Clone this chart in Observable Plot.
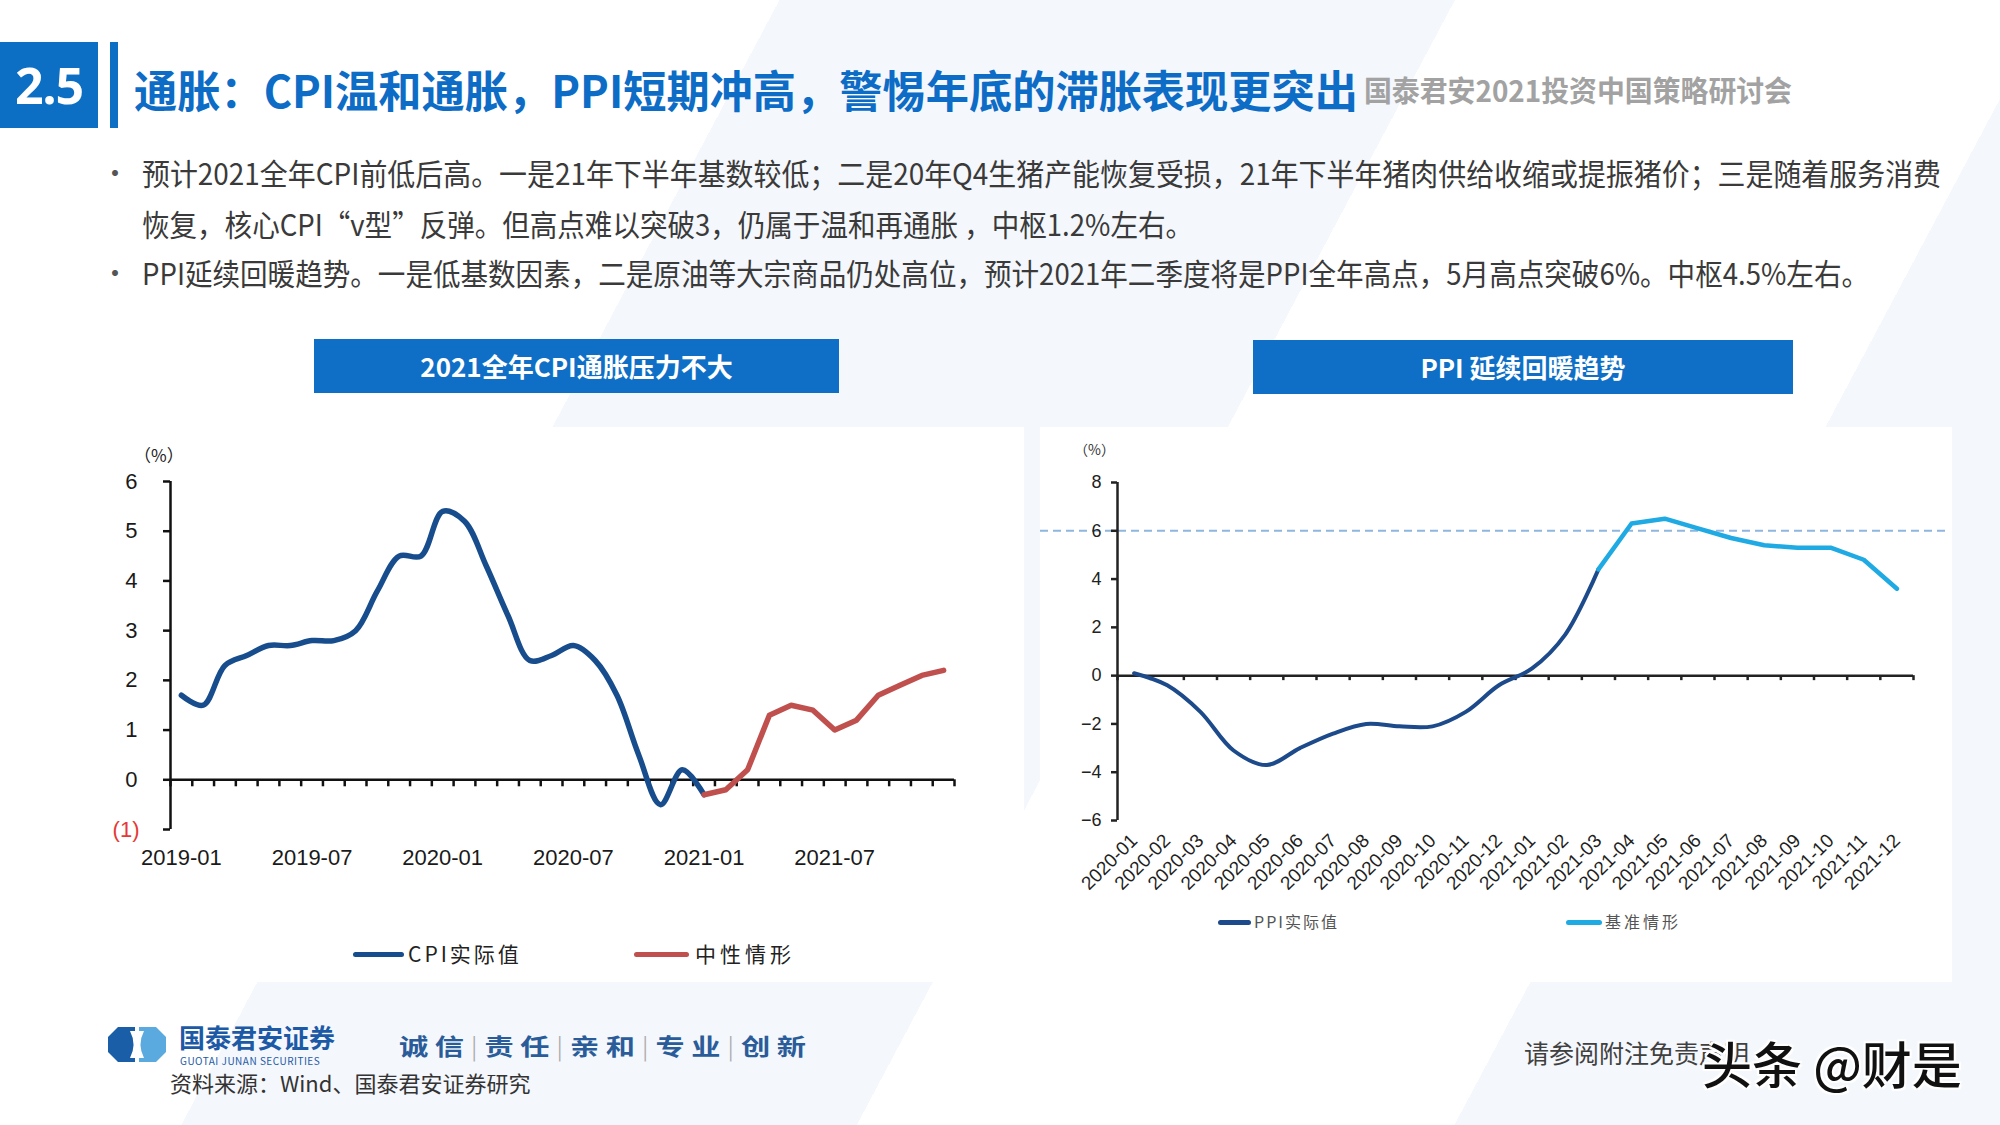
<!DOCTYPE html>
<html><head><meta charset="utf-8">
<script src="https://cdn.jsdelivr.net/npm/d3@7"></script>
<script src="https://cdn.jsdelivr.net/npm/@observablehq/plot@0.6"></script>
<style>
html,body{margin:0;padding:0;}
body{width:2000px;height:1125px;position:relative;overflow:hidden;font-family:"Noto Sans CJK SC","Noto Sans",sans-serif;
background:linear-gradient(118deg,#ffffff 0%,#ffffff 30%,#f4f7fc 30%,#f4f7fc 56%,#ffffff 56%,#ffffff 79%,#f4f7fc 79%);}
.abs{position:absolute;white-space:nowrap;}
.fit{transform-origin:0 50%;}
.panel{position:absolute;background:#fff;}
.panel svg{position:absolute;left:0;top:0;overflow:visible;}
.hdr{position:absolute;background:#0f6fc6;color:#fff;font-weight:700;font-size:26px;text-align:center;line-height:54px;height:54px;}
.bul{font-size:30px;line-height:30px;color:#3a3a3a;}
.dot{font-size:28px;color:#555;line-height:30px;}
.sw{position:absolute;height:5px;border-radius:3px;}
.lg{position:absolute;white-space:nowrap;color:#333;}
</style></head><body>

<div class="abs" style="left:0;top:42px;width:98px;height:86px;background:#0c6fc4;color:#fff;font:700 50px/86px 'Noto Sans','Liberation Sans',sans-serif;text-align:center;letter-spacing:-1px;">2.5</div>
<div class="abs" style="left:110px;top:42px;width:8px;height:86px;background:#0c6fc4;"></div>
<div class="abs fit" data-w="428" style="left:1364px;top:72px;font-size:29px;line-height:34px;font-weight:700;color:#a2a2a2;">国泰君安2021投资中国策略研讨会</div>
<div class="abs fit" data-w="1224" style="left:134px;top:67px;font-size:44px;line-height:44px;font-weight:700;color:#0c6cc6;">通胀：CPI温和通胀，PPI短期冲高，警惕年底的滞胀表现更突出</div>

<div class="abs dot" style="left:101px;top:157px;">•</div>
<div class="abs bul fit" data-w="1799" style="left:142px;top:157px;">预计2021全年CPI前低后高。一是21年下半年基数较低；二是20年Q4生猪产能恢复受损，21年下半年猪肉供给收缩或提振猪价；三是随着服务消费</div>
<div class="abs bul fit" data-w="1051" style="left:142px;top:208px;">恢复，核心CPI“v型”反弹。但高点难以突破3，仍属于温和再通胀 ，中枢1.2%左右。</div>
<div class="abs dot" style="left:101px;top:257px;">•</div>
<div class="abs bul fit" data-w="1727" style="left:142px;top:257px;">PPI延续回暖趋势。一是低基数因素，二是原油等大宗商品仍处高位，预计2021年二季度将是PPI全年高点，5月高点突破6%。中枢4.5%左右。</div>

<div class="hdr" style="left:314px;top:339px;width:525px;">2021全年CPI通胀压力不大</div>
<div class="hdr" style="left:1253px;top:340px;width:540px;">PPI 延续回暖趋势</div>

<div class="panel" id="pL" style="left:89px;top:427px;width:935px;height:555px;"></div>
<div class="panel" id="pR" style="left:1040px;top:427px;width:912px;height:555px;"></div>

<div class="abs" style="left:134px;top:444px;font-size:17px;line-height:22px;color:#222;">（%）</div>
<div class="abs" style="left:1074px;top:440px;font-size:14px;line-height:18px;color:#333;">（%）</div>

<div id="legL"></div>
<div id="legR"></div>

<!-- footer -->
<svg class="abs" style="left:108px;top:1027px;" width="58" height="35" viewBox="0 0 58 35">
  <path d="M10 0 H27 V35 H10 L0 25 V10 Z" fill="#1b5ea8"/>
  <path d="M31 0 H48 L58 10 V25 L48 35 H31 Z" fill="#5aaae0"/>
  <path d="M22 4 Q29 17.5 22 31 H27 V4 Z" fill="#fff"/>
  <path d="M36 4 Q29 17.5 36 31 H31 V4 Z" fill="#fff"/>
</svg>
<div class="abs" style="left:179px;top:1024px;font-size:26px;line-height:26px;font-weight:700;color:#1d5aa6;">国泰君安证券</div>
<div class="abs" style="left:180px;top:1055px;font-size:10px;line-height:11px;color:#1d5aa6;letter-spacing:0.5px;">GUOTAI JUNAN SECURITIES</div>
<div class="abs fit" data-w="407" style="left:399px;top:1032px;font-size:23px;line-height:26px;font-weight:700;color:#2a5c9a;">诚&nbsp;信<span style="color:#aaa;font-weight:300;">&nbsp;|&nbsp;</span>责&nbsp;任<span style="color:#aaa;font-weight:300;">&nbsp;|&nbsp;</span>亲&nbsp;和<span style="color:#aaa;font-weight:300;">&nbsp;|&nbsp;</span>专&nbsp;业<span style="color:#aaa;font-weight:300;">&nbsp;|&nbsp;</span>创&nbsp;新</div>
<div class="abs" style="left:170px;top:1070px;font-size:22px;line-height:24px;color:#333;">资料来源：Wind、国泰君安证券研究</div>
<div class="abs" style="left:1524px;top:1039px;font-size:25px;line-height:27px;color:#404040;">请参阅附注免责声明</div>
<div class="abs" style="left:1702px;top:1035px;font-size:50px;line-height:54px;font-weight:500;color:#111;text-shadow:0 0 3px #fff,2px 2px 0 #fff,-2px -2px 0 #fff,2px -2px 0 #fff,-2px 2px 0 #fff;">头条 @财是</div>

<script>
// ---------------- data ----------------
const cpiMonths = ["2019-01","2019-02","2019-03","2019-04","2019-05","2019-06","2019-07","2019-08","2019-09","2019-10","2019-11","2019-12",
  "2020-01","2020-02","2020-03","2020-04","2020-05","2020-06","2020-07","2020-08","2020-09","2020-10","2020-11","2020-12",
  "2021-01","2021-02","2021-03","2021-04","2021-05","2021-06","2021-07","2021-08","2021-09","2021-10","2021-11","2021-12"];
const cpiTickLabels = ["2019-01","2019-07","2020-01","2020-07","2021-01","2021-07"];
const cpiYTicks = [0,1,2,3,4,5,6];
const cpiNegTick = [-1];
// CPI实际值 2019-01 .. 2021-01
const cpiActual = [1.7,1.5,2.3,2.5,2.7,2.7,2.8,2.8,3.0,3.8,4.5,4.5,5.4,5.2,4.3,3.3,2.4,2.5,2.7,2.4,1.7,0.5,-0.5,0.2,-0.3];
// 中性情形 2021-01 .. 2021-12
const cpiNeutralStart = "2021-01";
const cpiNeutral = [-0.3,-0.2,0.2,1.3,1.5,1.4,1.0,1.2,1.7,1.9,2.1,2.2];
const cpiLegend = ["CPI实际值","中性情形"];

const ppiMonths = ["2020-01","2020-02","2020-03","2020-04","2020-05","2020-06","2020-07","2020-08","2020-09","2020-10","2020-11","2020-12",
  "2021-01","2021-02","2021-03","2021-04","2021-05","2021-06","2021-07","2021-08","2021-09","2021-10","2021-11","2021-12"];
const ppiYTicks = [-6,-4,-2,0,2,4,6,8];
// PPI实际值 2020-01 .. 2021-03
const ppiActual = [0.1,-0.4,-1.5,-3.1,-3.7,-3.0,-2.4,-2.0,-2.1,-2.1,-1.5,-0.4,0.3,1.7,4.4];
// 基准情形 2021-03 .. 2021-12
const ppiBaseStart = "2021-03";
const ppiBase = [4.4,6.3,6.5,6.1,5.7,5.4,5.3,5.3,4.8,3.6];
const ppiRefLine = [6];
const ppiLegend = ["PPI实际值","基准情形"];

// colours
const C = {cpi:"#174d8c", neutral:"#c0504d", ppi:"#1d4a8a", base:"#1faae3", dash:"#8fb6de", axis:"#111", neg:"#e53935"};

// ---------------- left chart ----------------
const cpiActualRows = cpiActual.map((v,k)=>({i:k, v}));
const nStart = cpiMonths.indexOf(cpiNeutralStart);
const cpiNeutralRows = cpiNeutral.map((v,k)=>({i:nStart+k, v}));
const L = {w:935,h:555,mt:54,mb:153,ml:81,mr:70};
const cpiBounds = d3.range(cpiMonths.length+1).map(k=>k-0.5);
const cpiPlot = Plot.plot({
  width:L.w,height:L.h,marginTop:L.mt,marginBottom:L.mb,marginLeft:L.ml,marginRight:L.mr,
  x:{type:"linear",domain:[-0.5,cpiMonths.length-0.5]},
  y:{type:"linear",domain:[-1,6]},
  style:{fontFamily:"'Liberation Sans',Arial,sans-serif",fontSize:"22px",color:"#1a1a1a",background:"transparent",overflow:"visible"},
  marks:[
    Plot.ruleX([-0.5],{stroke:C.axis,strokeWidth:2.5}),
    Plot.ruleY([0],{stroke:C.axis,strokeWidth:2.5}),
    Plot.ruleX(cpiBounds,{x:d=>d,y1:0,y2:0,insetBottom:-7,stroke:C.axis,strokeWidth:2.5}),
    Plot.axisY(cpiYTicks,{tickSize:7,tickPadding:26,strokeWidth:2.5,label:null,tickFormat:d3.format("d"),stroke:C.axis,fill:"#1a1a1a"}),
    Plot.axisY(cpiNegTick,{tickSize:7,tickPadding:24,strokeWidth:2.5,label:null,tickFormat:()=>"(1)",stroke:C.axis,fill:C.neg}),
    Plot.axisX(cpiTickLabels.map(m=>cpiMonths.indexOf(m)),{tickSize:0,tickPadding:20,label:null,tickFormat:i=>cpiMonths[i],fill:"#1a1a1a"}),
    Plot.line(cpiActualRows,{x:"i",y:"v",curve:"catmull-rom",stroke:C.cpi,strokeWidth:5.5}),
    Plot.line(cpiNeutralRows,{x:"i",y:"v",stroke:C.neutral,strokeWidth:5.5})
  ]
});
document.getElementById("pL").appendChild(cpiPlot);

// ---------------- right chart ----------------
const ppiActualRows = ppiActual.map((v,k)=>({i:k, v}));
const bStart = ppiMonths.indexOf(ppiBaseStart);
const ppiBaseRows = ppiBase.map((v,k)=>({i:bStart+k, v}));
const R = {w:912,h:555,mt:55,mb:162,ml:77,mr:39};
const ppiBounds = d3.range(ppiMonths.length+1).map(k=>k-0.5);
const ppiPlot = Plot.plot({
  width:R.w,height:R.h,marginTop:R.mt,marginBottom:R.mb,marginLeft:R.ml,marginRight:R.mr,
  x:{type:"linear",domain:[-0.5,ppiMonths.length-0.5]},
  y:{type:"linear",domain:[-6,8]},
  style:{fontFamily:"'Liberation Sans',Arial,sans-serif",fontSize:"18px",color:"#222",background:"transparent",overflow:"visible"},
  marks:[
    Plot.ruleY(ppiRefLine,{stroke:C.dash,strokeWidth:2,strokeDasharray:"8,5",insetLeft:-R.ml,insetRight:-(R.mr-3)}),
    Plot.ruleX([-0.5],{stroke:"#222",strokeWidth:2.5}),
    Plot.ruleY([0],{stroke:"#222",strokeWidth:2.5}),
    Plot.ruleX(ppiBounds,{x:d=>d,y1:0,y2:0,insetBottom:-5,stroke:"#222",strokeWidth:2.5}),
    Plot.axisY(ppiYTicks,{tickSize:6,tickPadding:10,strokeWidth:2.5,label:null,stroke:"#222",fill:"#222"}),
    Plot.axisX(d3.range(ppiMonths.length),{tickSize:0,tickPadding:17,tickRotate:-45,label:null,fontSize:19,tickFormat:i=>ppiMonths[i],fill:"#1e1e1e"}),
    Plot.line(ppiActualRows,{x:"i",y:"v",curve:"catmull-rom",stroke:C.ppi,strokeWidth:4}),
    Plot.line(ppiBaseRows,{x:"i",y:"v",stroke:C.base,strokeWidth:4.5})
  ]
});
document.getElementById("pR").appendChild(ppiPlot);

// ---------------- legends ----------------
function legend(id, items){
  const host = document.getElementById(id);
  for (const it of items){
    const s = document.createElement("div");
    s.className = "sw";
    Object.assign(s.style,{left:it.sx+"px",top:(it.y-2.5)+"px",width:it.sw+"px",background:it.color});
    host.appendChild(s);
    const t = document.createElement("div");
    t.className = "lg";
    t.textContent = it.label;
    Object.assign(t.style,{left:it.tx+"px",top:(it.y-it.fs*0.6)+"px",fontSize:it.fs+"px",lineHeight:(it.fs*1.2)+"px",letterSpacing:it.ls+"px",color:it.tc});
    host.appendChild(t);
  }
}
legend("legL",[
  {label:cpiLegend[0],color:C.cpi,sx:353,sw:51,tx:408,y:954,fs:21,ls:3,tc:"#222"},
  {label:cpiLegend[1],color:C.neutral,sx:634,sw:55,tx:695,y:954,fs:21,ls:4,tc:"#222"}
]);
legend("legR",[
  {label:ppiLegend[0],color:C.ppi,sx:1218,sw:33,tx:1254,y:922,fs:16,ls:2,tc:"#555"},
  {label:ppiLegend[1],color:C.base,sx:1566,sw:36,tx:1605,y:922,fs:16,ls:3,tc:"#555"}
]);

// ---------------- fit text widths ----------------
function fitAll(){
  document.querySelectorAll(".fit").forEach(el=>{
    el.style.transform = "none";
    const w = el.getBoundingClientRect().width;
    const target = +el.dataset.w;
    if (w > 0) el.style.transform = `scaleX(${target/w})`;
  });
}
fitAll();
if (document.fonts && document.fonts.ready) document.fonts.ready.then(fitAll);
</script>
</body></html>
